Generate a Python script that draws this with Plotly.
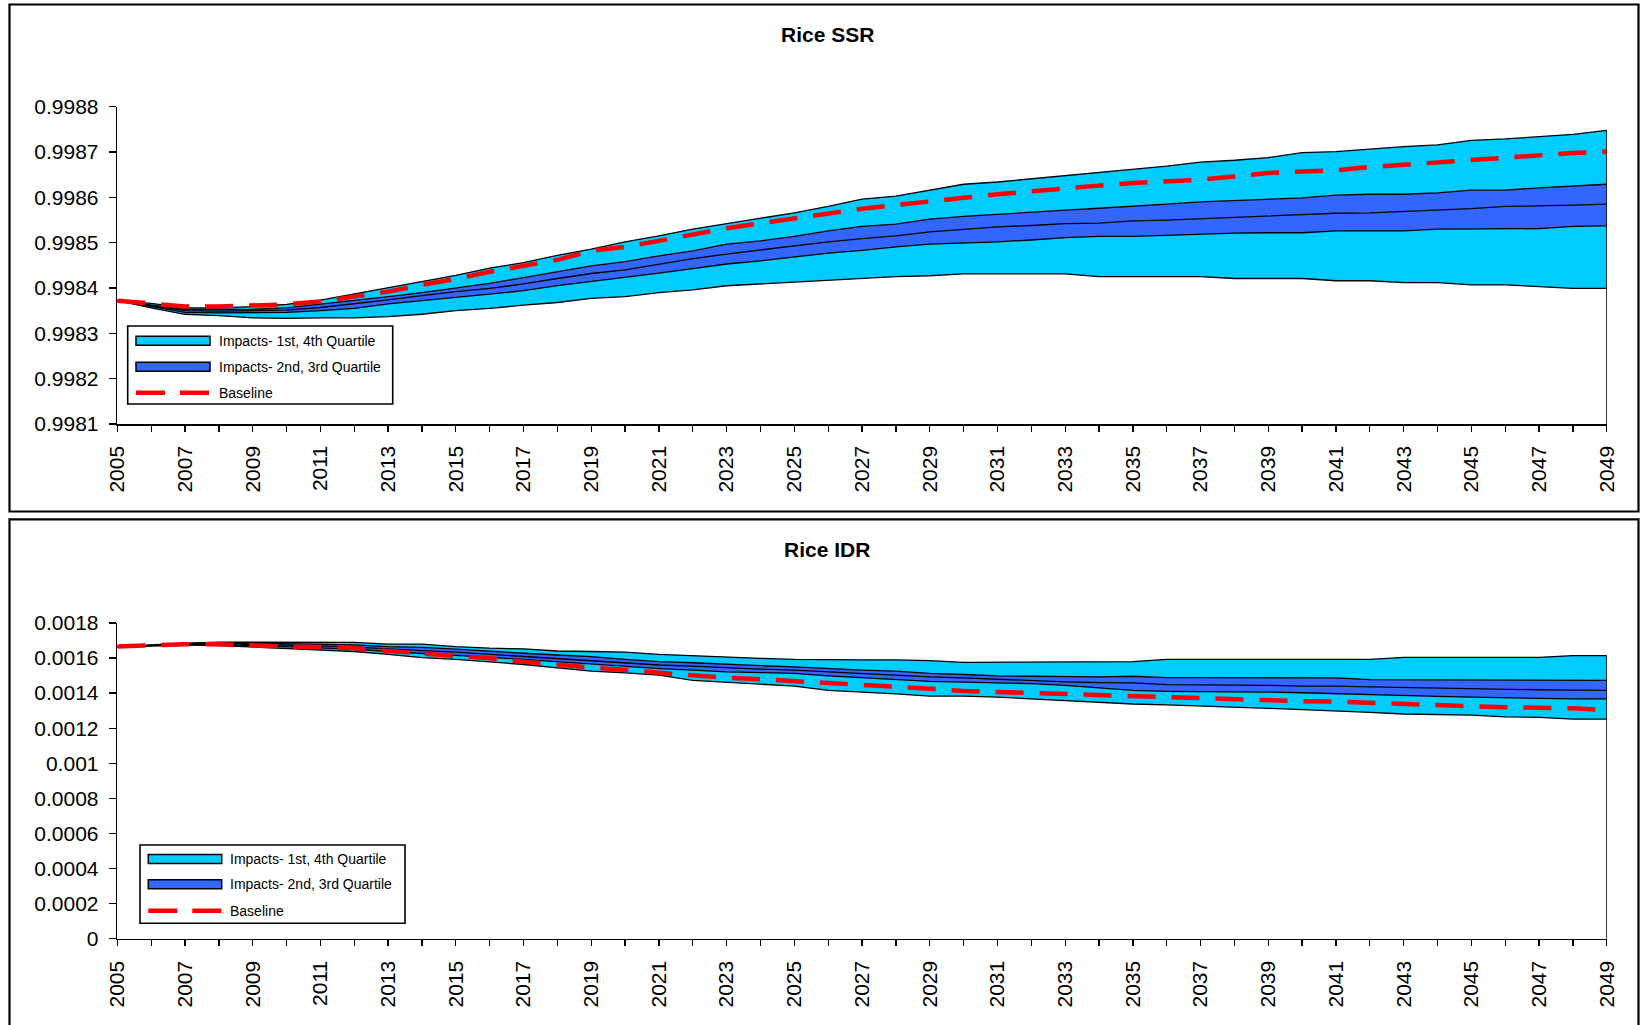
import plotly.graph_objects as go

# ---------------- data ----------------
years = list(range(2005, 2050))

ssr_q4 = [0.998372, 0.998366, 0.998356, 0.998356, 0.998359, 0.998364, 0.998373, 0.998387, 0.998401, 0.998414,
          0.998428, 0.998444, 0.998456, 0.998472, 0.998486, 0.998502, 0.998515, 0.998530, 0.998542, 0.998553,
          0.998566, 0.998580, 0.998596, 0.998603, 0.998616, 0.998629, 0.998634, 0.998641, 0.998649, 0.998656,
          0.998663, 0.998669, 0.998678, 0.998682, 0.998688, 0.998699, 0.998701, 0.998707, 0.998712, 0.998716,
          0.998726, 0.998729, 0.998734, 0.998739, 0.998748]
ssr_q3 = [0.998372, 0.998363, 0.998353, 0.998353, 0.998353, 0.998356, 0.998364, 0.998372, 0.998381, 0.998390,
          0.998400, 0.998410, 0.998423, 0.998436, 0.998449, 0.998458, 0.998471, 0.998482, 0.998497, 0.998504,
          0.998514, 0.998526, 0.998536, 0.998541, 0.998552, 0.998558, 0.998563, 0.998568, 0.998572, 0.998576,
          0.998580, 0.998585, 0.998590, 0.998593, 0.998596, 0.998599, 0.998605, 0.998607, 0.998607, 0.998610,
          0.998616, 0.998616, 0.998621, 0.998625, 0.998629]
ssr_med = [0.998372, 0.998361, 0.998350, 0.998349, 0.998350, 0.998351, 0.998357, 0.998365, 0.998374, 0.998383,
           0.998392, 0.998399, 0.998409, 0.998421, 0.998432, 0.998440, 0.998453, 0.998465, 0.998475, 0.998484,
           0.998493, 0.998502, 0.998509, 0.998515, 0.998524, 0.998530, 0.998535, 0.998538, 0.998542, 0.998543,
           0.998548, 0.998550, 0.998553, 0.998557, 0.998559, 0.998562, 0.998565, 0.998566, 0.998569, 0.998572,
           0.998575, 0.998580, 0.998581, 0.998583, 0.998585]
ssr_q2 = [0.998372, 0.998359, 0.998346, 0.998345, 0.998345, 0.998346, 0.998350, 0.998355, 0.998365, 0.998372,
          0.998379, 0.998386, 0.998394, 0.998405, 0.998414, 0.998423, 0.998433, 0.998443, 0.998453, 0.998460,
          0.998469, 0.998477, 0.998483, 0.998491, 0.998497, 0.998499, 0.998502, 0.998506, 0.998511, 0.998514,
          0.998514, 0.998516, 0.998519, 0.998521, 0.998522, 0.998522, 0.998526, 0.998526, 0.998526, 0.998530,
          0.998530, 0.998530, 0.998531, 0.998536, 0.998537]
ssr_q1 = [0.998372, 0.998356, 0.998342, 0.998339, 0.998334, 0.998333, 0.998334, 0.998334, 0.998337, 0.998342,
          0.998350, 0.998355, 0.998362, 0.998368, 0.998377, 0.998381, 0.998390, 0.998396, 0.998405, 0.998409,
          0.998412, 0.998416, 0.998421, 0.998425, 0.998427, 0.998431, 0.998431, 0.998431, 0.998431, 0.998425,
          0.998425, 0.998425, 0.998425, 0.998421, 0.998421, 0.998421, 0.998416, 0.998416, 0.998412, 0.998412,
          0.998407, 0.998407, 0.998403, 0.998399, 0.998399]
ssr_base = [0.998372, 0.998366, 0.998359, 0.998359, 0.998362, 0.998364, 0.998370, 0.998381, 0.998392, 0.998407,
            0.998420, 0.998436, 0.998449, 0.998462, 0.998482, 0.998491, 0.998504, 0.998519, 0.998532, 0.998543,
            0.998554, 0.998565, 0.998575, 0.998583, 0.998592, 0.998599, 0.998607, 0.998614, 0.998619, 0.998626,
            0.998632, 0.998636, 0.998639, 0.998646, 0.998654, 0.998657, 0.998660, 0.998667, 0.998672, 0.998677,
            0.998684, 0.998689, 0.998693, 0.998698, 0.998701]

idr_q4 = [0.001665, 0.001675, 0.001685, 0.001690, 0.001690, 0.001690, 0.001690, 0.001689, 0.001679, 0.001679,
          0.001665, 0.001656, 0.001652, 0.001640, 0.001637, 0.001633, 0.001621, 0.001612, 0.001604, 0.001598,
          0.001592, 0.001589, 0.001589, 0.001589, 0.001585, 0.001575, 0.001575, 0.001575, 0.001575, 0.001575,
          0.001579, 0.001592, 0.001592, 0.001592, 0.001592, 0.001592, 0.001592, 0.001592, 0.001604, 0.001604,
          0.001604, 0.001604, 0.001604, 0.001613, 0.001613]
idr_q3 = [0.001665, 0.001673, 0.001681, 0.001687, 0.001685, 0.001683, 0.001679, 0.001675, 0.001665, 0.001660,
          0.001650, 0.001637, 0.001627, 0.001617, 0.001608, 0.001592, 0.001579, 0.001573, 0.001563, 0.001556,
          0.001550, 0.001540, 0.001531, 0.001525, 0.001512, 0.001506, 0.001498, 0.001496, 0.001492, 0.001492,
          0.001496, 0.001488, 0.001488, 0.001488, 0.001488, 0.001487, 0.001487, 0.001477, 0.001477, 0.001477,
          0.001477, 0.001477, 0.001477, 0.001477, 0.001473]
idr_med = [0.001665, 0.001671, 0.001677, 0.001683, 0.001677, 0.001675, 0.001669, 0.001662, 0.001650, 0.001642,
           0.001633, 0.001621, 0.001612, 0.001598, 0.001588, 0.001573, 0.001560, 0.001554, 0.001544, 0.001537,
           0.001531, 0.001521, 0.001512, 0.001502, 0.001492, 0.001487, 0.001479, 0.001473, 0.001464, 0.001460,
           0.001458, 0.001448, 0.001448, 0.001448, 0.001444, 0.001440, 0.001440, 0.001435, 0.001431, 0.001429,
           0.001425, 0.001421, 0.001419, 0.001417, 0.001415]
idr_q2 = [0.001665, 0.001669, 0.001675, 0.001677, 0.001671, 0.001665, 0.001660, 0.001650, 0.001637, 0.001627,
          0.001613, 0.001604, 0.001592, 0.001579, 0.001565, 0.001550, 0.001540, 0.001531, 0.001521, 0.001517,
          0.001512, 0.001498, 0.001487, 0.001479, 0.001467, 0.001463, 0.001458, 0.001454, 0.001444, 0.001431,
          0.001415, 0.001410, 0.001410, 0.001410, 0.001406, 0.001402, 0.001396, 0.001390, 0.001387, 0.001381,
          0.001377, 0.001373, 0.001371, 0.001367, 0.001367]
idr_q1 = [0.001665, 0.001669, 0.001675, 0.001671, 0.001662, 0.001656, 0.001646, 0.001637, 0.001621, 0.001602,
          0.001592, 0.001579, 0.001563, 0.001544, 0.001525, 0.001515, 0.001502, 0.001473, 0.001463, 0.001454,
          0.001440, 0.001415, 0.001406, 0.001396, 0.001383, 0.001383, 0.001377, 0.001367, 0.001358, 0.001348,
          0.001338, 0.001333, 0.001325, 0.001319, 0.001313, 0.001306, 0.001300, 0.001290, 0.001281, 0.001277,
          0.001275, 0.001265, 0.001262, 0.001252, 0.001252]
idr_base = [0.001665, 0.001675, 0.001679, 0.001679, 0.001671, 0.001665, 0.001663, 0.001656, 0.001640, 0.001627,
            0.001608, 0.001598, 0.001579, 0.001560, 0.001546, 0.001531, 0.001517, 0.001498, 0.001487, 0.001479,
            0.001469, 0.001454, 0.001444, 0.001435, 0.001425, 0.001412, 0.001406, 0.001400, 0.001396, 0.001387,
            0.001383, 0.001377, 0.001371, 0.001367, 0.001362, 0.001354, 0.001352, 0.001344, 0.001338, 0.001329,
            0.001325, 0.001319, 0.001317, 0.001313, 0.001304]

ssr_ticks = [0.9981, 0.9982, 0.9983, 0.9984, 0.9985, 0.9986, 0.9987, 0.9988]
idr_ticks = [0, 0.0002, 0.0004, 0.0006, 0.0008, 0.001, 0.0012, 0.0014, 0.0016, 0.0018]
x_ticks = years[::2]

titles = ["Rice SSR", "Rice IDR"]
legend_labels = ["Impacts- 1st, 4th Quartile", "Impacts- 2nd, 3rd Quartile", "Baseline"]

# ---------------- styling / layout helpers ----------------
W, H = 1641, 1025
OFF = 0  # page body margin is removed (post_script) so the figure sits at the window corner
LIGHT = "#00CCFF"
DARK = "#3366FF"
RED = "#FF0000"
FONT = "Liberation Sans, Arial, sans-serif"


def px(x):
    return (x - OFF) / W


def py(y):
    return 1 - (y - OFF) / H


fig = go.Figure()


def add_panel(lo, q2, med, q3, hi, base, xa, ya, ymin):
    common = dict(x=years, mode="lines", line=dict(color="black", width=1.3),
                  xaxis=xa, yaxis=ya, showlegend=False, hoverinfo="skip")
    fig.add_trace(go.Scatter(y=lo, **common))
    fig.add_trace(go.Scatter(y=q2, fill="tonexty", fillcolor=LIGHT, **common))
    fig.add_trace(go.Scatter(y=med, fill="tonexty", fillcolor=DARK, **common))
    fig.add_trace(go.Scatter(y=q3, fill="tonexty", fillcolor=DARK, **common))
    fig.add_trace(go.Scatter(y=hi, fill="tonexty", fillcolor=LIGHT, **common))
    # right-hand edge of the area outline
    fig.add_trace(go.Scatter(x=[years[-1], years[-1]], y=[hi[-1], ymin], mode="lines",
                             line=dict(color="black", width=1.6), xaxis=xa, yaxis=ya,
                             showlegend=False, hoverinfo="skip"))
    fig.add_trace(go.Scatter(x=years, y=base, mode="lines",
                             line=dict(color=RED, width=4.5, dash="28px,16px"),
                             xaxis=xa, yaxis=ya, showlegend=False, hoverinfo="skip"))


add_panel(ssr_q1, ssr_q2, ssr_med, ssr_q3, ssr_q4, ssr_base, "x", "y", ssr_ticks[0])
add_panel(idr_q1, idr_q2, idr_med, idr_q3, idr_q4, idr_base, "x2", "y2", idr_ticks[0])

x_dom = [px(117.3), px(1606.8)]

xaxis_common = dict(
    range=[years[0], years[-1]], domain=x_dom, showgrid=False, zeroline=False,
    showline=True, linecolor="black", linewidth=1.6, automargin=False,
    tickmode="array", tickvals=x_ticks, ticktext=[str(v) for v in x_ticks],
    ticks="outside", ticklen=6, tickwidth=1.3, tickcolor="black",
    tickangle=-90, tickfont=dict(family=FONT, size=21, color="black"),
    ticklabelstandoff=6,
    minor=dict(tickmode="array", tickvals=years, ticks="outside", ticklen=6,
               tickwidth=1.3, tickcolor="black", showgrid=False),
)
yaxis_common = dict(
    showgrid=False, zeroline=False, showline=True, linecolor="black", linewidth=1.6,
    automargin=False,
    ticks="outside", ticklen=7, tickwidth=1.3, tickcolor="black",
    tickfont=dict(family=FONT, size=21, color="black"), ticklabelstandoff=6,
)

fig.update_layout(
    width=W, height=H, autosize=False,
    margin=dict(l=0, r=0, t=0, b=0, pad=0, autoexpand=False),
    paper_bgcolor="white", plot_bgcolor="white",
    font=dict(family=FONT, color="black"),
    showlegend=False,
    xaxis=dict(anchor="y", **xaxis_common),
    xaxis2=dict(anchor="y2", **xaxis_common),
    yaxis=dict(anchor="x", domain=[py(423.9), py(106.8)], range=[ssr_ticks[0], ssr_ticks[-1]],
               tickmode="array", tickvals=ssr_ticks, ticktext=[f"{v:.4f}" for v in ssr_ticks],
               **yaxis_common),
    yaxis2=dict(anchor="x2", domain=[py(938.8), py(622.9)], range=[idr_ticks[0], idr_ticks[-1]],
                tickmode="array", tickvals=idr_ticks, ticktext=[f"{v:g}" for v in idr_ticks],
                **yaxis_common),
)

shapes = []
annotations = []

# panel borders
for (t, b) in [(4.5, 511.5), (519.3, 1032)]:
    shapes.append(dict(type="rect", xref="paper", yref="paper",
                       x0=px(9.5), x1=px(1638.5), y0=py(b), y1=py(t),
                       line=dict(color="black", width=2.2), fillcolor="rgba(0,0,0,0)"))

# titles
for title, ty in zip(titles, [34.5, 549.5]):
    annotations.append(dict(text=f"<b>{title}</b>", xref="paper", yref="paper",
                            x=px(827), y=py(ty), xanchor="center", yanchor="middle",
                            showarrow=False, font=dict(family=FONT, size=21, color="black")))

# legends (box, symbols, text)
legend_boxes = [
    dict(x0=127.7, x1=392.7, y0=326.0, y1=404.0, sx0=136.0, sx1=210.0, tx=216.5,
         rows=[340.7, 366.7, 392.7]),
    dict(x0=140.0, x1=405.0, y0=845.0, y1=923.3, sx0=148.3, sx1=221.7, tx=228.3,
         rows=[859.0, 884.3, 910.7]),
]
for lb in legend_boxes:
    shapes.append(dict(type="rect", xref="paper", yref="paper",
                       x0=px(lb["x0"]), x1=px(lb["x1"]), y0=py(lb["y1"]), y1=py(lb["y0"]),
                       line=dict(color="black", width=1.6), fillcolor="white"))
    for r, col in zip(lb["rows"][:2], [LIGHT, DARK]):
        shapes.append(dict(type="rect", xref="paper", yref="paper",
                           x0=px(lb["sx0"]), x1=px(lb["sx1"]), y0=py(r + 4.5), y1=py(r - 4.5),
                           line=dict(color="black", width=1.5), fillcolor=col))
    r = lb["rows"][2]
    shapes.append(dict(type="line", xref="paper", yref="paper",
                       x0=px(lb["sx0"]), x1=px(lb["sx1"]), y0=py(r), y1=py(r),
                       line=dict(color=RED, width=4.5, dash="29px,15px")))
    for lab, r in zip(legend_labels, lb["rows"]):
        annotations.append(dict(text=lab, xref="paper", yref="paper",
                                x=px(lb["tx"]), y=py(r), xanchor="left", yanchor="middle",
                                showarrow=False, font=dict(family=FONT, size=14, color="black")))

fig.update_layout(shapes=shapes, annotations=annotations)

fig.write_html("out.html",
               config={"displayModeBar": False, "staticPlot": True},
               post_script="document.body.style.margin='0px';document.body.style.overflow='hidden';")
